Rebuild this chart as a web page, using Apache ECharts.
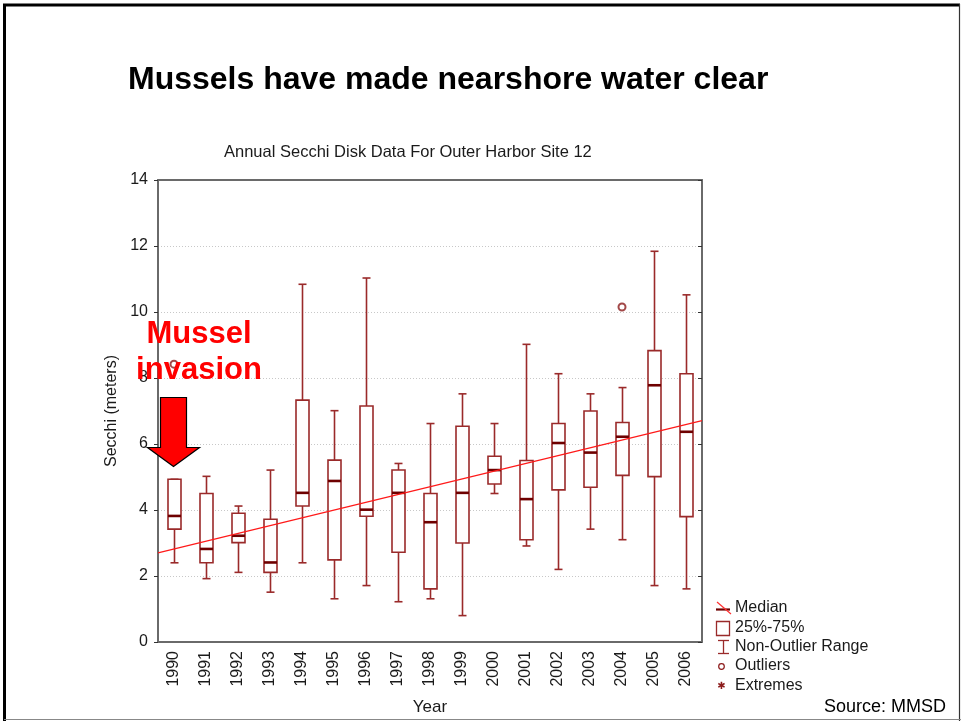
<!DOCTYPE html>
<html><head><meta charset="utf-8">
<script src="https://cdn.jsdelivr.net/npm/echarts@6/dist/echarts.min.js"></script>
<style>html,body{margin:0;padding:0;background:#fff}#c{width:961px;height:721px}</style>
</head><body><div id="c"></div>
<script>
// ---- data ----
const years = ['1990','1991','1992','1993','1994','1995','1996','1997','1998','1999','2000','2001','2002','2003','2004','2005','2006'];
const whiskerLow = [2.40,1.92,2.11,1.51,2.40,1.31,1.71,1.22,1.31,0.80,4.50,2.91,2.20,3.42,3.10,1.71,1.61];
const q1         = [3.42,2.40,3.01,2.11,4.12,2.49,3.81,2.72,1.61,3.00,4.79,3.10,4.61,4.69,5.05,5.01,3.80];
const median     = [3.82,2.82,3.22,2.41,4.52,4.88,4.01,4.52,3.63,4.52,5.21,4.33,6.03,5.74,6.22,7.78,6.37];
const q3         = [4.93,4.50,3.90,3.72,7.33,5.51,7.15,5.21,4.50,6.54,5.63,5.50,6.62,7.00,6.65,8.83,8.13];
const whiskerHigh= [4.93,5.02,4.12,5.21,10.84,7.01,11.03,5.41,6.62,7.52,6.62,9.02,8.13,7.52,7.71,11.84,10.52];
const outlierYears = ['1990','2004'];
const outlierValues = [8.42,10.15];
const trendX = [-0.5,16.5];
const trendY = [2.70,6.71];
const yTicks = [0,2,4,6,8,10,12,14];

const boxData = years.map((y,i)=>[i,whiskerLow[i],q1[i],median[i],q3[i],whiskerHigh[i]]);
const dark = '#8b1a1a';
const boxColor = '#9a2a2a';

const chart = echarts.init(document.getElementById('c'));
function renderBox(params, api){
  const x = api.value(0);
  const pMin = api.coord([x, api.value(1)]);
  const pQ1 = api.coord([x, api.value(2)]);
  const pMed = api.coord([x, api.value(3)]);
  const pQ3 = api.coord([x, api.value(4)]);
  const pMax = api.coord([x, api.value(5)]);
  const cx = Math.round(pMin[0]) + 0.5;
  const bw = 13, cw = 8;
  const st = {stroke: boxColor, lineWidth: 1.6, fill: null};
  return {type:'group', children:[
    {type:'line', shape:{x1:cx,y1:pMin[1],x2:cx,y2:pQ1[1]}, style:st},
    {type:'line', shape:{x1:cx,y1:pQ3[1],x2:cx,y2:pMax[1]}, style:st},
    {type:'line', shape:{x1:cx-cw/2,y1:pMin[1],x2:cx+cw/2,y2:pMin[1]}, style:st},
    {type:'line', shape:{x1:cx-cw/2,y1:pMax[1],x2:cx+cw/2,y2:pMax[1]}, style:st},
    {type:'rect', shape:{x:cx-bw/2,y:pQ3[1],width:bw,height:pQ1[1]-pQ3[1]}, style:{stroke:boxColor,lineWidth:1.6,fill:'#fff'}},
    {type:'line', shape:{x1:cx-bw/2,y1:pMed[1],x2:cx+bw/2,y2:pMed[1]}, style:{stroke:'#6e0000',lineWidth:2.6}}
  ]};
}
const txt = '#1a1a1a';
const F = '"Liberation Sans", Arial, sans-serif';
const option = {
  animation:false,
  textStyle:{fontFamily:'Liberation Sans, Arial, sans-serif'},
  grid:{left:158,right:259,top:180,bottom:79,show:false,containLabel:false,outerBoundsMode:'none'},
  xAxis:[
    {type:'category',data:years,position:'bottom',
     axisLine:{onZero:false,lineStyle:{color:'#6a6a6a',width:2}},
     axisTick:{alignWithLabel:true,length:5,lineStyle:{color:'#333'}},
     axisLabel:{rotate:90,fontSize:16,color:txt,margin:9,interval:0},
     name:'Year',nameLocation:'middle',nameGap:57,nameTextStyle:{fontSize:17,color:txt}},
    {type:'category',data:years,position:'top',
     axisLine:{onZero:false,lineStyle:{color:'#6a6a6a',width:2}},
     axisTick:{alignWithLabel:true,inside:true,length:4,lineStyle:{color:'#333'}},
     axisLabel:{show:false}},
    {type:'value',min:-0.5,max:16.5,show:false}
  ],
  yAxis:[
    {type:'value',min:0,max:14,interval:2,position:'left',
     axisLine:{show:true,onZero:false,lineStyle:{color:'#6a6a6a',width:2}},
     axisTick:{show:true,length:4,lineStyle:{color:'#333'}},
     axisLabel:{fontSize:16,color:txt,margin:10},
     splitLine:{show:true,lineStyle:{color:'#c8c8c8',type:[1,2],width:1}},
     name:'Secchi (meters)',nameLocation:'middle',nameGap:35,nameRotate:90,
     nameTextStyle:{fontSize:16,color:txt}},
    {type:'value',min:0,max:14,interval:2,position:'right',
     axisLine:{show:true,onZero:false,lineStyle:{color:'#6a6a6a',width:2}},
     axisTick:{show:true,inside:true,length:4,lineStyle:{color:'#333'}},
     axisLabel:{show:false},splitLine:{show:false}}
  ],
  series:[
    {type:'custom',xAxisIndex:0,yAxisIndex:0,renderItem:renderBox,data:boxData,
     encode:{x:0,y:[1,2,3,4,5]},z:2},
    {type:'scatter',xAxisIndex:0,yAxisIndex:0,data:outlierYears.map((y,i)=>[y,outlierValues[i]]),
     symbol:'emptyCircle',symbolSize:7,itemStyle:{color:dark,borderColor:dark,borderWidth:1.3},z:3},
    {type:'line',xAxisIndex:2,yAxisIndex:0,data:trendX.map((x,i)=>[x,trendY[i]]),
     symbol:'none',lineStyle:{color:'#ff1a1a',width:1.2},z:4}
  ],
  graphic:[
    {type:'line',shape:{x1:3,y1:5,x2:960,y2:5},style:{stroke:'#000',lineWidth:3},z:100},
    {type:'line',shape:{x1:4.5,y1:4,x2:4.5,y2:721},style:{stroke:'#000',lineWidth:3},z:100},
    {type:'line',shape:{x1:959.5,y1:4,x2:959.5,y2:721},style:{stroke:'#333',lineWidth:1.2},z:100},
    {type:'line',shape:{x1:4,y1:719.5,x2:961,y2:719.5},style:{stroke:'#888',lineWidth:1.2},z:100},
    {type:'text',left:128,top:64,style:{text:'Mussels have made nearshore water clear',font:'bold 32px '+F,fill:'#000'}},
    {type:'text',left:224,top:144,style:{text:'Annual Secchi Disk Data For Outer Harbor Site 12',font:'16.5px '+F,fill:txt}},
    {type:'text',x:199,y:316,z:50,style:{text:'Mussel\ninvasion',font:'bold 31px '+F,fill:'#ff0000',align:'center',lineHeight:36}},
    {type:'polygon',z:50,shape:{points:[[160.5,397.5],[186.5,397.5],[186.5,447.5],[199.5,447.5],[173.5,466.5],[147.5,447.5],[160.5,447.5]]},style:{fill:'#ff0000',stroke:'#000',lineWidth:1.2}},
    {type:'line',shape:{x1:716,y1:609.5,x2:730,y2:609.5},style:{stroke:'#6e0000',lineWidth:2.2}},
    {type:'line',shape:{x1:717,y1:602,x2:731,y2:614},style:{stroke:'#ff3030',lineWidth:1.2}},
    {type:'rect',shape:{x:716.5,y:621.5,width:13,height:14},style:{stroke:boxColor,lineWidth:1.3,fill:'#fff'}},
    {type:'line',shape:{x1:718,y1:640.5,x2:729,y2:640.5},style:{stroke:boxColor,lineWidth:1.3}},
    {type:'line',shape:{x1:723.5,y1:640.5,x2:723.5,y2:654},style:{stroke:boxColor,lineWidth:1.3}},
    {type:'line',shape:{x1:718,y1:653.5,x2:729,y2:653.5},style:{stroke:boxColor,lineWidth:1.3}},
    {type:'circle',shape:{cx:721.5,cy:666.5,r:2.8},style:{stroke:dark,lineWidth:1.2,fill:'#fff'}},
    {type:'text',x:721.5,y:686,style:{text:'✱',font:'10px "DejaVu Sans", sans-serif',fill:dark,align:'center',verticalAlign:'middle'}},
    {type:'text',x:735,y:608,style:{text:'Median',font:'16px '+F,fill:txt,verticalAlign:'middle'}},
    {type:'text',x:735,y:628,style:{text:'25%-75%',font:'16px '+F,fill:txt,verticalAlign:'middle'}},
    {type:'text',x:735,y:647,style:{text:'Non-Outlier Range',font:'16px '+F,fill:txt,verticalAlign:'middle'}},
    {type:'text',x:735,y:666,style:{text:'Outliers',font:'16px '+F,fill:txt,verticalAlign:'middle'}},
    {type:'text',x:735,y:686,style:{text:'Extremes',font:'16px '+F,fill:txt,verticalAlign:'middle'}},
    {type:'text',x:946,y:707,style:{text:'Source: MMSD',font:'18px '+F,fill:'#000',align:'right',verticalAlign:'middle'}}
  ]
};
chart.setOption(option);
</script></body></html>
